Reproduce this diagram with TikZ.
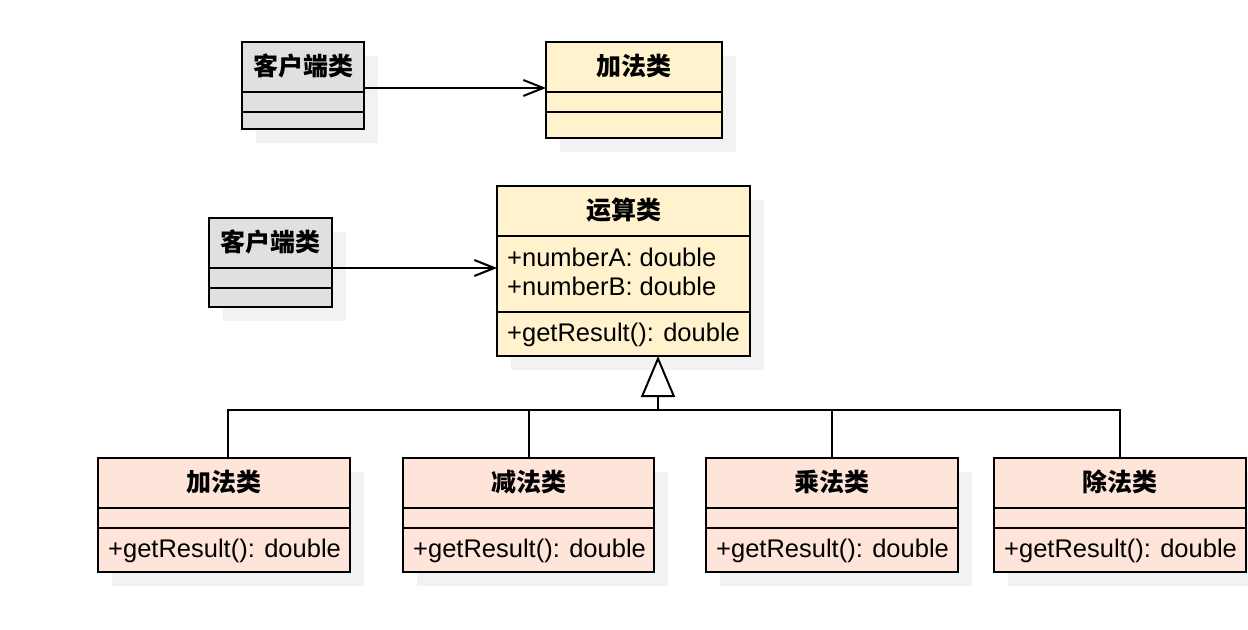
\documentclass[tikz,border=0pt]{standalone}
\usepackage{fontspec}
\setmainfont{Liberation Sans}
\newfontfamily\cjk{Noto Sans CJK SC}
\usetikzlibrary{arrows.meta}
\definecolor{grayfill}{HTML}{E0E0E0}
\definecolor{yellowfill}{HTML}{FFF2CC}
\definecolor{pinkfill}{HTML}{FFE4DA}
\definecolor{shadowc}{HTML}{F2F2F2}
\tikzset{
  ln/.style={line width=2bp, draw=black},
  umlframe/.style={ln, rectangle, inner sep=0pt, outer sep=0pt, anchor=north west},
  shadowsty/.style={fill=shadowc},
  titletext/.style={inner sep=0pt, anchor=base, font=\cjk\bfseries\fontsize{25bp}{30bp}\selectfont},
  membertext/.style={inner sep=0pt, anchor=base west, font=\fontsize{25.5bp}{30bp}\selectfont},
  assoc/.style={ln, -{Straight Barb[length=20bp,width=16bp]}},
  inherit/.style={ln, -{Triangle[open,fill=white,length=41bp,width=34bp]}}
}
% name, x, y, width, h-title, h-attr, h-method, fill, title
\newcommand{\umlbox}[9]{%
  \pgfmathsetmacro{\umlhh}{#5+#6+#7}%
  \fill[shadowsty] (#2+14,#3+14) rectangle ++(#4,\umlhh);
  \node[umlframe, fill=#8, minimum width=#4bp, minimum height=\umlhh bp] (#1) at (#2,#3) {};
  \draw[ln] (#2,#3+#5) -- ++(#4,0);
  \draw[ln] (#2,#3+#5+#6) -- ++(#4,0);
  \node[titletext] (#1-t) at (#2+#4/2,#3+33.5) {#9};
}
\begin{document}
\begin{tikzpicture}[x=1bp,y=-1bp]
\useasboundingbox (0,0) rectangle (1248,630);

\umlbox{client1}{242}{42}{122}{50}{20}{17}{grayfill}{客户端类}
\umlbox{add1}{546}{42}{176}{50}{20}{26}{yellowfill}{加法类}
\umlbox{client2}{209}{218}{123}{50}{20}{19}{grayfill}{客户端类}
\umlbox{op}{497}{186}{253}{50}{76}{44}{yellowfill}{运算类}
\umlbox{sub1}{98}{458}{252}{50}{20}{44}{pinkfill}{加法类}
\umlbox{sub2}{403}{458}{251}{50}{20}{44}{pinkfill}{减法类}
\umlbox{sub3}{706}{458}{252}{50}{20}{44}{pinkfill}{乘法类}
\umlbox{sub4}{994}{458}{252}{50}{20}{44}{pinkfill}{除法类}

\node[membertext] (op-a1) at (507,267) {+numberA: double};
\node[membertext] (op-a2) at (507,296) {+numberB: double};
\node[membertext] (op-m) at (507,341.5) {+getResult(): double};
\node[membertext] (sub1-m) at (108,557.5) {+getResult(): double};
\node[membertext] (sub2-m) at (413,557.5) {+getResult(): double};
\node[membertext] (sub3-m) at (716,557.5) {+getResult(): double};
\node[membertext] (sub4-m) at (1004,557.5) {+getResult(): double};

% associations
\coordinate (r1) at (0,88);
\coordinate (r2) at (0,268);
\draw[assoc] (client1.east |- r1) -- (add1.west |- r1);
\draw[assoc] (client2.east |- r2) -- (op.west |- r2);

% generalization
\coordinate (j) at (658,410);
\coordinate (s1) at ([xshift=4bp]sub1.north);
\draw[ln] (s1) -- (s1 |- j) -- (sub4.north |- j) -- (sub4.north);
\draw[ln] (sub2.north) -- (sub2.north |- j);
\draw[ln] (sub3.north) -- (sub3.north |- j);
\draw[inherit] (j) -- (op.south -| j);
\end{tikzpicture}
\end{document}
